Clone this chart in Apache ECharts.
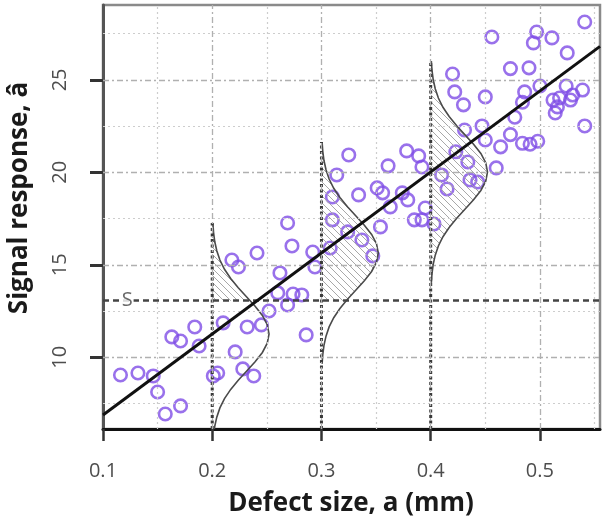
<!DOCTYPE html>
<html><head><meta charset="utf-8">
<script src="https://cdn.jsdelivr.net/npm/echarts@6/dist/echarts.min.js"></script>
<style>html,body{margin:0;padding:0;background:#fff}#c{width:605px;height:528px}</style>
</head><body><div id="c"></div>
<script>
// ---- data ----
const xTicks = [0.1, 0.2, 0.3, 0.4, 0.5];
const yTicks = [10, 15, 20, 25];
const xGridMajor = [0.2, 0.3, 0.4, 0.5];
const xGridMinor = [0.15, 0.25, 0.35, 0.45, 0.55];
const yGridMajor = [10, 15, 20, 25];
const yGridMinor = [7.5, 12.5, 17.5, 22.5, 27.5];

const sizeA = [0.116,0.132,0.146,0.150,0.157,0.171,0.163,0.171,0.184,0.188,
  0.201,0.205,0.210,0.218,0.224,0.221,0.228,0.238,0.232,0.241,
  0.245,0.252,0.260,0.262,0.269,0.269,0.273,0.274,0.282,0.286,
  0.292,0.294,0.308,0.310,0.310,0.314,0.324,0.325,0.334,0.337,
  0.347,0.351,0.356,0.354,0.361,0.363,0.374,0.378,0.379,0.389,
  0.392,0.385,0.392,0.395,0.403,0.410,0.415,0.420,0.422,0.423,
  0.430,0.431,0.434,0.436,0.443,0.447,0.450,0.450,0.456,0.460,
  0.464,0.473,0.473,0.477,0.484,0.484,0.486,0.490,0.491,0.497,
  0.494,0.498,0.500,0.511,0.512,0.514,0.516,0.518,0.524,0.525,
  0.528,0.530,0.539,0.541,0.541];
const signalA = [9.04,9.15,8.99,8.12,6.93,7.37,11.10,10.88,11.64,10.61,
  8.99,9.15,11.86,15.26,14.88,10.29,9.37,8.99,11.64,15.64,
  11.75,12.50,13.48,14.56,12.83,17.26,16.02,13.42,13.37,11.21,
  15.69,14.88,15.91,17.43,18.67,19.86,16.78,20.94,18.78,16.34,
  15.48,19.16,18.89,17.05,20.35,18.13,18.89,21.16,18.51,20.89,
  20.29,17.43,17.43,18.07,17.21,19.86,19.10,25.32,24.35,21.11,
  23.65,22.29,20.56,19.59,19.48,22.51,24.08,21.75,27.32,20.24,
  21.38,25.61,22.04,22.98,23.79,21.57,24.35,25.65,21.52,27.59,
  27.00,21.68,24.67,27.27,23.91,23.21,23.54,24.02,24.67,26.46,
  23.91,24.18,24.45,28.13,22.51];

const fitX = [0.1, 0.555];
const fitY = [6.88, 26.81];
const sLevel = 13.06;

const bellX = [0.2, 0.3, 0.4];
const bellMean = [11.26, 15.64, 20.02];
const bellOffsets = [-6,-5.5,-5,-4.5,-4,-3.5,-3,-2.5,-2,-1.5,-1,-0.5,0,0.5,1,1.5,2,2.5,3,3.5,4,4.5,5,5.5,6];
const bellProfile = [0.011,0.023,0.044,0.080,0.135,0.216,0.325,0.458,0.607,0.755,0.883,0.969,1,
  0.969,0.883,0.755,0.607,0.458,0.325,0.216,0.135,0.080,0.044,0.023,0.011];
const bellPeakWidth = 0.052;

const X_MIN = 0.1, X_MAX = 0.555, Y_MIN = 6.12, Y_MAX = 29.05;

// hatch pattern
const pc = document.createElement('canvas');
pc.width = 7; pc.height = 7;
const g = pc.getContext('2d');
g.strokeStyle = '#a8a8a8'; g.lineWidth = 1;
g.beginPath();
[-7, 0, 7].forEach(c => { g.moveTo(0, c); g.lineTo(7, 7 + c); });
g.stroke();

const purple = '#7f4de6';
const chart = echarts.init(document.getElementById('c'), null, {renderer: 'canvas'});

const majorStyle = {color: '#b0b0b0', width: 1.3, type: [6, 3, 2, 3]};
const minorStyle = {color: '#cdcdcd', width: 1.2, type: [2, 3]};

const gridLines = []
  .concat(yGridMajor.map(v => ({yAxis: v, lineStyle: majorStyle})))
  .concat(yGridMinor.map(v => ({yAxis: v, lineStyle: minorStyle})))
  .concat(xGridMajor.map(v => ({xAxis: v, lineStyle: majorStyle})))
  .concat(xGridMinor.map(v => ({xAxis: v, lineStyle: minorStyle})));

function bellRender(params, api) {
  const a = api.value(0), m = api.value(1);
  const pts = bellOffsets.map((d, k) => [a + bellPeakWidth * bellProfile[k], m + d]);
  const curve = pts.map(p => api.coord(p));
  const poly = [];
  for (let k = 0; k < pts.length; k++) {
    const y = pts[k][1];
    if (y >= sLevel) {
      if (poly.length === 0) {
        if (k > 0) {
          const y0 = pts[k-1][1], w0 = pts[k-1][0], w1 = pts[k][0];
          const t = (sLevel - y0) / (y - y0);
          poly.push(api.coord([a, sLevel]));
          poly.push(api.coord([w0 + (w1 - w0) * t, sLevel]));
        } else {
          poly.push(api.coord([a, y]));
        }
      }
      poly.push(api.coord(pts[k]));
    }
  }
  poly.push(api.coord([a, pts[pts.length - 1][1]]));
  const top = api.coord([a, m + bellOffsets[bellOffsets.length - 1]]);
  const bot = api.coord([a, Y_MIN]);
  return {
    type: 'group',
    children: [
      {type: 'polygon', shape: {points: poly}, style: {fill: {image: pc, repeat: 'repeat'}, stroke: null}},
      {type: 'polyline', shape: {points: curve}, style: {stroke: '#4a4a4a', lineWidth: 1.6, fill: null}},
      {type: 'line', shape: {x1: bot[0], y1: bot[1], x2: top[0], y2: top[1]},
        style: {stroke: '#3a3a3a', lineWidth: 3, lineDash: [3, 2.5]}}
    ]
  };
}

const tickFont = {fontFamily: 'Open Sans', fontSize: 20, color: '#4d4d4d'};

chart.setOption({
  animation: false,
  grid: {left: 103, right: 5, top: 5, bottom: 99, show: true, borderColor: '#8a8a8a', borderWidth: 2.5},
  xAxis: {
    type: 'value', min: X_MIN, max: X_MAX,
    axisLine: {show: true, lineStyle: {color: '#111', width: 3}},
    axisTick: {show: true, customValues: xTicks, length: 12, lineStyle: {color: '#333', width: 2.5}},
    axisLabel: Object.assign({customValues: xTicks, margin: 32, formatter: v => String(v)}, tickFont),
    splitLine: {show: false}
  },
  yAxis: {
    type: 'value', min: Y_MIN, max: Y_MAX,
    axisLine: {show: true, lineStyle: {color: '#555', width: 3}},
    axisTick: {show: true, customValues: yTicks, length: 13, lineStyle: {color: '#333', width: 3}},
    axisLabel: Object.assign({customValues: yTicks, rotate: 90, margin: 33}, tickFont),
    splitLine: {show: false}
  },
  graphic: [
    {type: 'text', x: 351, y: 504,
      style: {text: 'Defect size, a (mm)', font: 'bold 26px "Open Sans"', fill: '#1a1a1a', align: 'center', verticalAlign: 'middle'}},
    {type: 'text', x: 20, y: 198, rotation: Math.PI / 2,
      style: {text: 'Signal response, â', font: 'bold 26px "Open Sans"', fill: '#1a1a1a', align: 'center', verticalAlign: 'middle'}}
  ],
  series: [
    {type: 'line', data: [], z: 1, silent: true,
      markLine: {silent: true, symbol: ['none', 'none'], label: {show: false}, animation: false, data: gridLines}},
    {type: 'line', data: [], z: 2, silent: true,
      markLine: {silent: true, symbol: ['none', 'none'], label: {show: false}, animation: false,
        data: [{yAxis: sLevel, lineStyle: {color: '#444', width: 2.5, type: [6, 4]}}]}},
    {type: 'scatter', z: 3, symbol: 'circle', symbolSize: 12.5,
      itemStyle: {color: 'rgba(0,0,0,0)', borderColor: purple, borderWidth: 2.6},
      data: sizeA.map((x, i) => [x, signalA[i]])},
    {type: 'custom', z: 4, clip: true, renderItem: bellRender,
      data: bellX.map((x, i) => [x, bellMean[i]])},
    {type: 'line', z: 5, symbol: 'none', lineStyle: {color: '#111', width: 3},
      data: fitX.map((x, i) => [x, fitY[i]])},
    {type: 'scatter', z: 6, symbolSize: 0, data: [[0.1222, sLevel]],
      label: {show: true, position: 'inside', formatter: 'S', color: '#444', fontFamily: 'Open Sans',
        fontSize: 20, backgroundColor: '#fff', padding: [0, 1]}}
  ]
});
</script></body></html>
